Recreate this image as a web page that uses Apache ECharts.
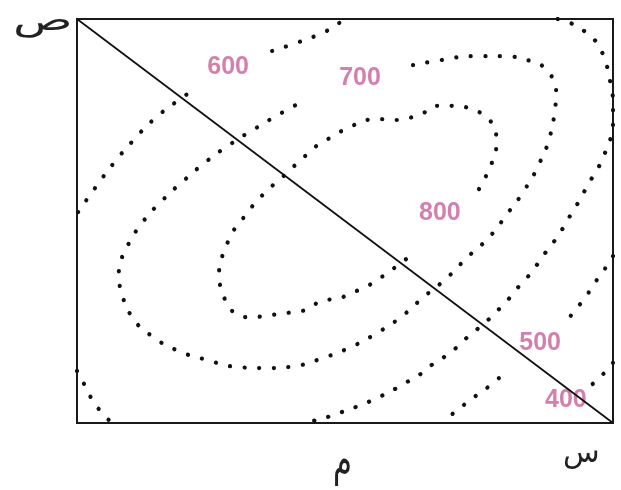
<!DOCTYPE html>
<html>
<head>
<meta charset="utf-8">
<script src="https://cdn.jsdelivr.net/npm/echarts@6/dist/echarts.min.js"></script>
<style>
  html, body { margin: 0; padding: 0; background: #fff; }
  #chart { width: 621px; height: 490px; }
</style>
</head>
<body>
<div id="chart"></div>
<script>
  // contour lines (x and y run 0..100 inside the box)
  var c600a = [[0.2, 52.2], [3.5, 58.4], [6.9, 64.4], [10.4, 69.8], [14.2, 75.0], [18.5, 79.5], [20.9, 81.7]];
  var c600b = [[36.4, 92.1], [41.4, 94.3], [46.5, 97.0], [48.9, 99.0], [50.2, 100]];
  var c700 = [[62.7, 88.6], [68.3, 89.9], [73.7, 90.8], [79.3, 90.8], [84.7, 89.6], [87.1, 88.1], [88.8, 85.1],
    [89.4, 81.7], [89.2, 78.0], [88.2, 70.8], [86.2, 64.1], [83.6, 57.9], [80.4, 52.0], [76.9, 46.0],
    [72.9, 41.1], [69.0, 35.9], [64.7, 31.2], [60.4, 26.2], [56.0, 22.3], [51.1, 18.8], [45.9, 16.1],
    [40.7, 14.1], [35.3, 13.6], [29.7, 13.9], [24.3, 15.6], [19.0, 17.8], [14.2, 21.3], [10.3, 26.2],
    [8.2, 32.9], [7.8, 36.6], [8.2, 40.1], [9.3, 43.6], [12.3, 49.8], [16.0, 55.2], [20.0, 60.1],
    [24.3, 64.9], [28.7, 69.1], [33.4, 73.0], [38.1, 76.7], [42.9, 80.2]];
  var c800 = [[75.0, 57.9], [76.3, 61.1], [77.4, 64.4], [78.2, 68.1], [78.2, 71.5], [77.1, 74.8], [75.0, 77.0],
    [72.4, 78.2], [69.6, 78.5], [66.8, 78.5], [64.6, 76.7], [61.9, 75.5], [59.3, 75.0], [56.5, 75.2],
    [53.9, 75.0], [51.3, 73.5], [48.7, 71.8], [46.5, 70.0], [44.2, 68.1], [42.2, 65.6], [40.1, 63.1],
    [38.1, 60.6], [36.0, 58.2], [34.1, 55.7], [32.3, 53.0], [30.6, 50.0], [28.9, 47.0], [27.8, 43.6],
    [26.9, 40.3], [26.5, 36.6], [26.9, 33.2], [28.0, 29.7], [29.7, 27.0], [32.3, 26.2], [35.1, 26.5],
    [37.7, 27.0], [40.5, 27.5], [43.1, 28.2], [45.9, 30.4], [48.5, 30.7], [51.1, 32.2], [53.5, 33.4],
    [56.0, 35.4], [58.2, 37.4], [60.4, 39.6], [62.7, 41.8]];
  var cOuter = [[89.7, 100], [92.9, 98.5], [95.1, 96.5], [97.0, 94.1], [98.3, 90.6], [99.1, 87.1], [99.6, 83.4],
    [100, 79.7], [100, 75.0], [99.8, 71.8], [98.9, 68.3], [97.8, 64.6], [96.5, 61.6], [95.1, 58.4],
    [93.8, 55.2], [92.4, 52.2], [91.0, 49.0], [89.6, 46.0], [87.9, 43.1], [86.2, 39.9], [84.7, 37.1],
    [82.8, 34.4], [81.0, 31.4], [79.1, 28.7], [77.1, 26.0], [75.2, 23.8], [72.9, 21.3], [70.9, 18.8],
    [68.8, 16.6], [66.4, 14.6], [64.4, 12.4], [61.9, 10.4], [59.7, 8.7], [57.1, 6.9], [54.7, 5.4],
    [52.1, 4.0], [49.4, 2.7], [46.8, 1.5], [44.0, 0.5], [42.5, 0]];
  var c500a = [[100, 41.3], [98.1, 37.4], [96.6, 34.7], [95.0, 31.4], [93.3, 28.5], [91.6, 25.7]];
  var c500b = [[78.7, 11.1], [76.7, 8.9], [74.4, 6.7], [72.2, 4.5], [70.0, 2.2], [68.1, 0]];
  var c400 = [[100, 14.9], [97.8, 11.6], [95.5, 8.9]];
  var cCorner = [[0, 12.9], [1.7, 8.7], [3.0, 5.4], [4.7, 2.5], [6.5, 0]];

  // straight line corner to corner
  var diagonal = [[0, 100], [100, 0]];

  // contour value labels and where they sit
  var labelTexts = ['600', '700', '800', '500', '400'];
  var labelSpots = [[28.2, 88.1], [52.8, 85.4], [67.7, 52.0], [86.4, 19.8], [91.2, 5.7]];

  var contours = [c600a, c600b, c700, c800, cOuter, c500a, c500b, c400, cCorner];

  var myChart = echarts.init(document.getElementById('chart'));

  var series = contours.map(function (pts) {
    return {
      type: 'line',
      data: pts,
      smooth: true,
      showSymbol: false,
      silent: true,
      lineStyle: { color: '#111', width: 4.2, type: [0.1, 14.5], cap: 'round' }
    };
  });

  series.push({
    type: 'line',
    data: diagonal,
    showSymbol: false,
    silent: true,
    lineStyle: { color: '#111', width: 1.8 }
  });

  series.push({
    type: 'scatter',
    symbolSize: 0,
    silent: true,
    data: labelSpots.map(function (p, i) { return { value: p, name: labelTexts[i] }; }),
    label: {
      show: true,
      position: 'inside',
      formatter: function (p) { return p.name; },
      color: '#c8609a',
      fontSize: 25,
      fontWeight: 'bold',
      fontFamily: 'Liberation Sans, Arial, sans-serif'
    }
  });

  var option = {
    backgroundColor: '#fff',
    animation: false,
    grid: {
      left: 77, top: 19, width: 536, height: 404,
      show: true, borderColor: '#1a1a1a', borderWidth: 2, backgroundColor: 'transparent'
    },
    xAxis: { type: 'value', min: 0, max: 100, show: false },
    yAxis: { type: 'value', min: 0, max: 100, show: false },
    graphic: [
      { type: 'text', x: 13, y: 7, scaleX: 1.37, scaleY: 0.85,
        style: { text: 'ص', fontSize: 36, fontFamily: 'DejaVu Sans', fill: '#222' } },
      { type: 'text', x: 563, y: 439,
        style: { text: 'س', fontSize: 30, fontFamily: 'DejaVu Sans', fill: '#222' } },
      { type: 'text', x: 333, y: 441, scaleX: 0.85, scaleY: 1.25,
        style: { text: 'م', fontSize: 36, fontFamily: 'DejaVu Sans', fill: '#222' } }
    ],
    series: series
  };

  myChart.setOption(option);
</script>
</body>
</html>
